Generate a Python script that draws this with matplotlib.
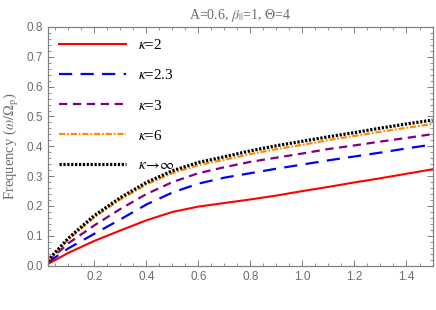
import matplotlib
matplotlib.use("Agg")
import matplotlib.pyplot as plt
from matplotlib.ticker import MultipleLocator

plt.rcParams['font.family'] = ['Liberation Serif', 'DejaVu Serif']
plt.rcParams['mathtext.fontset'] = 'stix'
plt.rcParams['lines.scale_dashes'] = False

k = [0.02, 0.1, 0.2, 0.3, 0.4, 0.5, 0.6, 0.7, 0.8, 0.9, 1.0, 1.1, 1.2, 1.3, 1.4, 1.5]
w_k2 = [0.005, 0.043, 0.083, 0.118, 0.152, 0.180, 0.198, 0.210, 0.222, 0.235, 0.250, 0.264, 0.279, 0.293, 0.308, 0.323]
w_k23 = [0.010, 0.058, 0.107, 0.155, 0.205, 0.245, 0.275, 0.295, 0.310, 0.325, 0.339, 0.353, 0.366, 0.379, 0.393, 0.406]
w_k3 = [0.012, 0.075, 0.135, 0.190, 0.240, 0.280, 0.310, 0.330, 0.348, 0.362, 0.376, 0.391, 0.403, 0.416, 0.428, 0.441]
w_k6 = [0.014, 0.088, 0.162, 0.222, 0.272, 0.310, 0.337, 0.355, 0.374, 0.391, 0.405, 0.421, 0.435, 0.449, 0.462, 0.475]
w_inf = [0.016, 0.092, 0.168, 0.228, 0.279, 0.318, 0.346, 0.365, 0.385, 0.402, 0.417, 0.432, 0.446, 0.461, 0.475, 0.488]
labels = [r'$\kappa$=2', r'$\kappa$=2.3', r'$\kappa$=3', r'$\kappa$=6', r'$\kappa\!\rightarrow\!\infty$']

fig = plt.figure(figsize=(4.36, 3.10), dpi=100)
ax = fig.add_axes([0.109, 0.143, 0.883, 0.77])

ax.plot(k, w_k2, color='#ff0000', lw=1.5, label=labels[0])
ax.plot(k, w_k23, color='#0000ff', lw=1.6, dashes=(9.5, 6.0), label=labels[1])
ax.plot(k, w_k3, color='#800080', lw=1.6, dashes=(6.0, 4.0), label=labels[2])
ax.plot(k, w_k6, color='#ff8c00', lw=1.6, dashes=(4.5, 1.3, 1.3, 1.3), label=labels[3])
ax.plot(k, w_inf, color='#000000', lw=2.3, dashes=(1.6, 1.2), label=labels[4])

ax.set_xlim(0.02, 1.5)
ax.set_ylim(0, 0.8)
ax.xaxis.set_major_locator(MultipleLocator(0.2))
ax.xaxis.set_minor_locator(MultipleLocator(0.05))
ax.yaxis.set_major_locator(MultipleLocator(0.1))
ax.yaxis.set_minor_locator(MultipleLocator(0.02))
ax.set_xticks([0.2, 0.4, 0.6, 0.8, 1.0, 1.2, 1.4])
ax.set_xticklabels(['0.2', '0.4', '0.6', '0.8', '1.0', '1.2', '1.4'])
ax.set_yticks([0.0, 0.1, 0.2, 0.3, 0.4, 0.5, 0.6, 0.7, 0.8])
ax.set_yticklabels(['0.0', '0.1', '0.2', '0.3', '0.4', '0.5', '0.6', '0.7', '0.8'])

gray = '#808080'
for s in ax.spines.values():
    s.set_color(gray)
    s.set_linewidth(0.9)
ax.tick_params(which='both', direction='in', top=True, right=True, color=gray,
               labelcolor='#6e6e6e', labelsize=8.5)
ax.tick_params(which='major', length=4, width=0.7)
ax.tick_params(which='minor', length=2, width=0.6)
for lab in ax.get_xticklabels() + ax.get_yticklabels():
    lab.set_family(['Liberation Sans', 'DejaVu Sans'])

ax.set_ylabel(r'Frequency ($\omega/\Omega_{\rm p}$)', color='#6e6e6e', fontsize=10.5, labelpad=4)
ax.set_title(r'A=0.6, $\beta_{||}$=1, $\Theta$=4', color='#6e6e6e', fontsize=10, pad=6)

leg = ax.legend(loc='upper left', bbox_to_anchor=(0.0, 1.0), frameon=False,
                fontsize=11, handlelength=4.4, handletextpad=0.75,
                labelspacing=1.05, borderaxespad=0.45, borderpad=0.3)

fig.savefig('out.png', dpi=100)
